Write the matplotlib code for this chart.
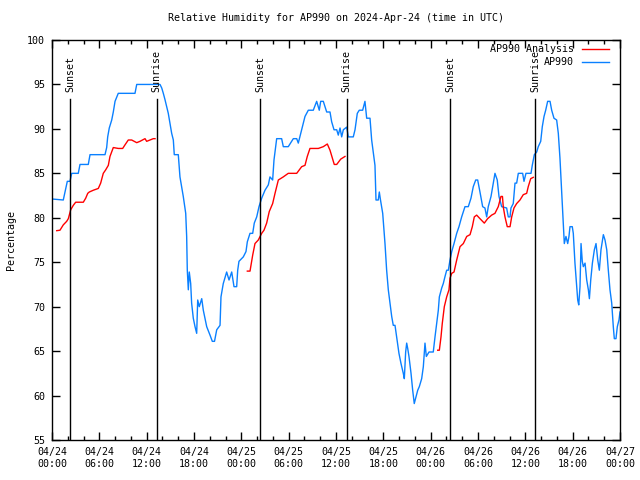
import numpy as np
import pandas as pd
import matplotlib
matplotlib.use("Agg")
import matplotlib.pyplot as plt
import matplotlib.dates as mdates

# hours after 2024-04-24 00:00 UTC
obs_hours = [0.16, 1.43, 1.65, 1.94, 2.28, 2.50, 3.33, 3.55, 4.60, 4.82, 6.72, 6.93, 7.06, 7.26,
             7.57, 7.77, 7.99, 8.40, 10.52, 10.74, 13.69, 13.91, 14.11, 14.32, 14.54, 14.74, 14.96,
             15.17, 15.38, 15.50, 16.01, 16.22, 16.64, 16.95, 17.07, 17.15, 17.28, 17.40, 17.58,
             17.70, 17.91, 18.13, 18.34, 18.47, 18.67, 18.98, 19.18, 19.61, 20.03, 20.32, 20.60,
             20.88, 21.30, 21.42, 21.71, 22.14, 22.44, 22.78, 23.07, 23.41, 23.54, 23.70, 24.25,
             24.59, 24.76, 25.10, 25.44, 25.64, 25.95, 26.24, 26.58, 27.00, 27.42, 27.63, 27.97,
             28.14, 28.48, 29.11, 29.32, 29.95, 30.59, 31.02, 31.22, 31.65, 32.07, 32.49, 33.12,
             33.55, 33.88, 34.06, 34.39, 34.61, 34.82, 35.24, 35.45, 35.75, 36.09, 36.29, 36.51,
             36.72, 36.93, 37.36, 37.56, 38.19, 38.41, 38.70, 38.95, 39.38, 39.67, 39.89, 40.31,
             40.52, 40.94, 41.07, 41.36, 41.49, 41.64, 41.92, 42.21, 42.42, 42.63, 42.84, 43.06,
             43.26, 43.48, 43.69, 43.98, 44.24, 44.53, 44.66, 44.83, 44.96, 45.09, 45.25, 45.51,
             45.72, 45.92, 46.10, 46.36, 46.56, 46.86, 47.07, 47.28, 47.45, 47.79, 48.33, 48.55,
             48.76, 48.97, 49.10, 49.40, 49.60, 49.82, 50.03, 50.24, 50.45, 50.67, 50.96, 51.30,
             51.59, 51.93, 52.35, 52.77, 53.11, 53.40, 53.71, 53.96, 54.25, 54.59, 54.88, 55.10,
             55.30, 55.65, 55.94, 56.15, 56.44, 56.66, 57.00, 57.63, 57.84, 58.06, 58.18, 58.47,
             58.69, 58.90, 59.11, 59.66, 59.83, 60.08, 60.72, 60.88, 61.14, 61.44, 61.64, 61.95,
             62.15, 62.37, 62.58, 62.83, 63.13, 63.34, 63.63, 63.97, 64.18, 64.39, 64.52, 64.68,
             64.81, 64.94, 65.15, 65.37, 65.53, 65.66, 65.95, 66.08, 66.29, 66.51, 66.64, 66.77,
             66.93, 67.06, 67.22, 67.35, 67.57, 67.78, 67.99, 68.12, 68.29, 68.50, 68.75, 68.96,
             69.18, 69.38, 69.59, 69.89, 70.10, 70.32, 70.52, 70.73, 70.95, 71.15, 71.28, 71.49,
             71.66, 71.87, 72.00]
obs_rh = [82.1, 82.0, 82.9, 84.1, 84.1, 85.0, 85.0, 86.0, 86.0, 87.1, 87.1, 87.9, 89.1, 90.1,
          91.0, 91.9, 93.1, 94.0, 94.0, 95.0, 95.0, 94.6, 94.0, 93.3, 92.5, 91.75, 90.6,
          89.5, 88.75, 87.1, 87.1, 84.6, 82.4, 80.5, 77.9, 74.1, 71.9, 73.9, 72.6,
          70.4, 68.7, 67.75, 67.0, 70.75, 70.0, 70.9, 69.6, 67.75, 66.8, 66.1, 66.1,
          67.4, 67.9, 71.1, 72.6, 73.9, 73.0, 73.9, 72.25, 72.25, 74.1, 75.1, 75.6,
          76.2, 77.3, 78.25, 78.25, 79.4, 80.1, 81.25, 82.2, 83.1, 83.7, 84.6, 84.25,
          86.5, 88.9, 88.9, 88.0, 88.0, 88.9, 88.9, 88.4, 89.9, 91.4, 92.1, 92.1,
          93.1, 92.1, 93.1, 93.1, 92.5, 91.9, 91.9, 90.8, 89.9, 89.9, 89.3, 90.1,
          89.1, 89.9, 90.2, 89.1, 89.1, 89.9, 91.75, 92.1, 92.1, 93.1, 91.2, 91.2,
          88.75, 85.9, 82.0, 82.0, 82.9, 82.0, 80.5, 77.1, 74.1, 71.9, 70.4, 68.9,
          67.9, 67.9, 66.6, 64.75, 63.6, 62.5, 61.9, 64.9, 65.9, 65.3, 64.4, 62.5,
          60.6, 59.1, 59.7, 60.6, 61.0, 61.9, 63.25, 65.9, 64.4, 64.9, 64.9, 66.6,
          68.1, 69.6, 71.1, 72.1, 72.6, 73.4, 74.1, 74.1, 75.25, 76.2, 77.1, 78.25,
          79.0, 80.1, 81.25, 81.25, 82.2, 83.5, 84.25, 84.25, 82.9, 81.25, 81.1, 80.1,
          81.25, 82.4, 83.9, 85.0, 84.25, 82.4, 81.25, 81.1, 80.1, 80.1, 81.1, 81.6,
          83.9, 83.9, 85.0, 85.0, 84.1, 85.0, 85.0, 85.9, 87.1, 87.4, 88.0, 88.6,
          90.25, 91.4, 92.1, 93.1, 93.1, 92.1, 91.2, 91.0, 89.5, 86.7, 84.4, 81.6,
          79.4, 77.1, 77.9, 77.1, 77.9, 79.0, 79.0, 78.25, 74.9, 72.25, 70.75, 70.2,
          72.25, 77.1, 75.1, 74.5, 74.9, 73.0, 71.9, 70.9, 73.0, 74.9, 76.4, 77.1,
          75.25, 74.1, 76.4, 78.1, 77.5, 76.4, 74.1, 71.9, 70.4, 67.75, 66.4, 66.4,
          67.75, 68.5, 69.4]

# analysis series, gaps marked with nan
ana_hours = [0.60, 1.01, 1.43, 1.86, 2.07, 2.37, 2.70, 3.00, 3.97, 4.27, 4.53, 4.73, 5.24, 5.87,
             6.17, 6.50, 6.81, 7.14, 7.35, 7.77, 8.40, 8.96, 9.25, 9.67, 10.10, 10.74, 11.15,
             11.79, 12.00, 12.42, 12.84, 13.06, 18.0,
             24.76, 25.10, 25.44, 25.73, 26.15, 26.58, 26.87, 27.21, 27.54, 27.97, 28.27, 28.69,
             29.32, 29.95, 31.02, 31.65, 32.07, 32.36, 32.70, 33.76, 34.39, 34.90, 35.24, 35.78,
             36.09, 36.60, 37.14, 42.0,
             48.89, 49.10, 49.31, 49.47, 49.73, 50.03, 50.32, 50.45, 50.67, 50.96, 51.30, 51.72,
             52.14, 52.57, 52.99, 53.28, 53.53, 53.83, 54.25, 54.80, 55.22, 55.73, 56.15, 56.57,
             56.91, 57.10, 57.20, 57.42, 57.71, 58.06, 58.27, 58.56, 58.90, 59.32, 59.74, 60.17,
             60.37, 60.68, 61.01]
ana_rh = [78.55, 78.6, 79.2, 79.6, 79.9, 80.9, 81.4, 81.75, 81.75, 82.2, 82.75, 82.9, 83.1, 83.3,
          83.9, 85.0, 85.4, 85.9, 86.9, 87.9, 87.8, 87.8, 88.2, 88.75, 88.75, 88.45, 88.6,
          88.9, 88.6, 88.75, 88.9, 88.9, np.nan,
          74.0, 74.0, 75.8, 77.1, 77.5, 78.25, 78.6, 79.4, 80.7, 81.6, 82.75, 84.25,
          84.6, 85.0, 85.0, 85.75, 85.9, 86.9, 87.8, 87.8, 88.0, 88.3, 87.6, 86.0,
          86.0, 86.6, 86.9, np.nan,
          65.1, 65.1, 66.6, 68.1, 70.0, 71.1, 71.9, 73.2, 73.75, 73.9, 75.25, 76.75,
          77.1, 77.9, 78.1, 79.0, 80.1, 80.3, 79.9, 79.4, 79.9, 80.3, 80.5, 81.25,
          82.4, 82.4, 81.25, 80.1, 79.0, 79.0, 80.1, 81.1, 81.6, 82.0, 82.6, 82.75,
          83.5, 84.4, 84.55]

sun_hours = [2.32, 13.26, 26.41, 37.35, 50.49, 61.25]
sun_labels = ["Sunset", "Sunrise", "Sunset", "Sunrise", "Sunset", "Sunrise"]

start = pd.Timestamp("2024-04-24 00:00")
to_time = lambda h: start + pd.to_timedelta(np.asarray(h, dtype=float), unit="h")

plt.rcParams['font.family'] = ['DejaVu Sans Mono']
plt.rcParams['font.size'] = 7.2

fig = plt.figure(figsize=(6.4, 4.8), dpi=100)
ax = fig.add_axes([52 / 640, 40 / 480, 568 / 640, 400 / 480])

ax.plot(to_time(obs_hours), obs_rh, color="#0a80ff", lw=1.0)
ax.plot(to_time(ana_hours), ana_rh, color="#ff0000", lw=1.0)

for h, lab in zip(sun_hours, sun_labels):
    t = to_time([h])[0]
    ax.plot([t, t], [55, 93.4], color="black", lw=1.0)
    ax.text(t, 94.2, lab, rotation=90, ha="center", va="bottom")

ax.set_xlim(start, start + pd.Timedelta(hours=72))
ax.set_ylim(55, 100)
ax.set_yticks(np.arange(55, 101, 5))
ax.xaxis.set_major_locator(mdates.HourLocator(byhour=[0, 6, 12, 18]))
ax.xaxis.set_minor_locator(mdates.HourLocator(interval=2))
ax.xaxis.set_major_formatter(mdates.DateFormatter("%m/%d\n%H:%M"))
ax.tick_params(which="both", direction="in", top=True, right=True, width=1.0)
ax.tick_params(which="major", length=6, pad=5)
ax.tick_params(which="minor", length=3)
for s in ax.spines.values():
    s.set_linewidth(1.0)

ax.set_title("Relative Humidity for AP990 on 2024-Apr-24 (time in UTC)", fontsize=7.2, pad=14)
ax.set_ylabel("Percentage", labelpad=8)

# legend, gnuplot style (text right aligned, sample after it)
for lab, col, yy in [("AP990 Analysis", "#ff0000", 0.977), ("AP990", "#0a80ff", 0.944)]:
    ax.text(0.919, yy, lab, ha="right", va="center", transform=ax.transAxes)
    ax.plot([0.933, 0.981], [yy, yy], color=col, lw=1.0, transform=ax.transAxes)

fig.savefig("out.png", dpi=100)
